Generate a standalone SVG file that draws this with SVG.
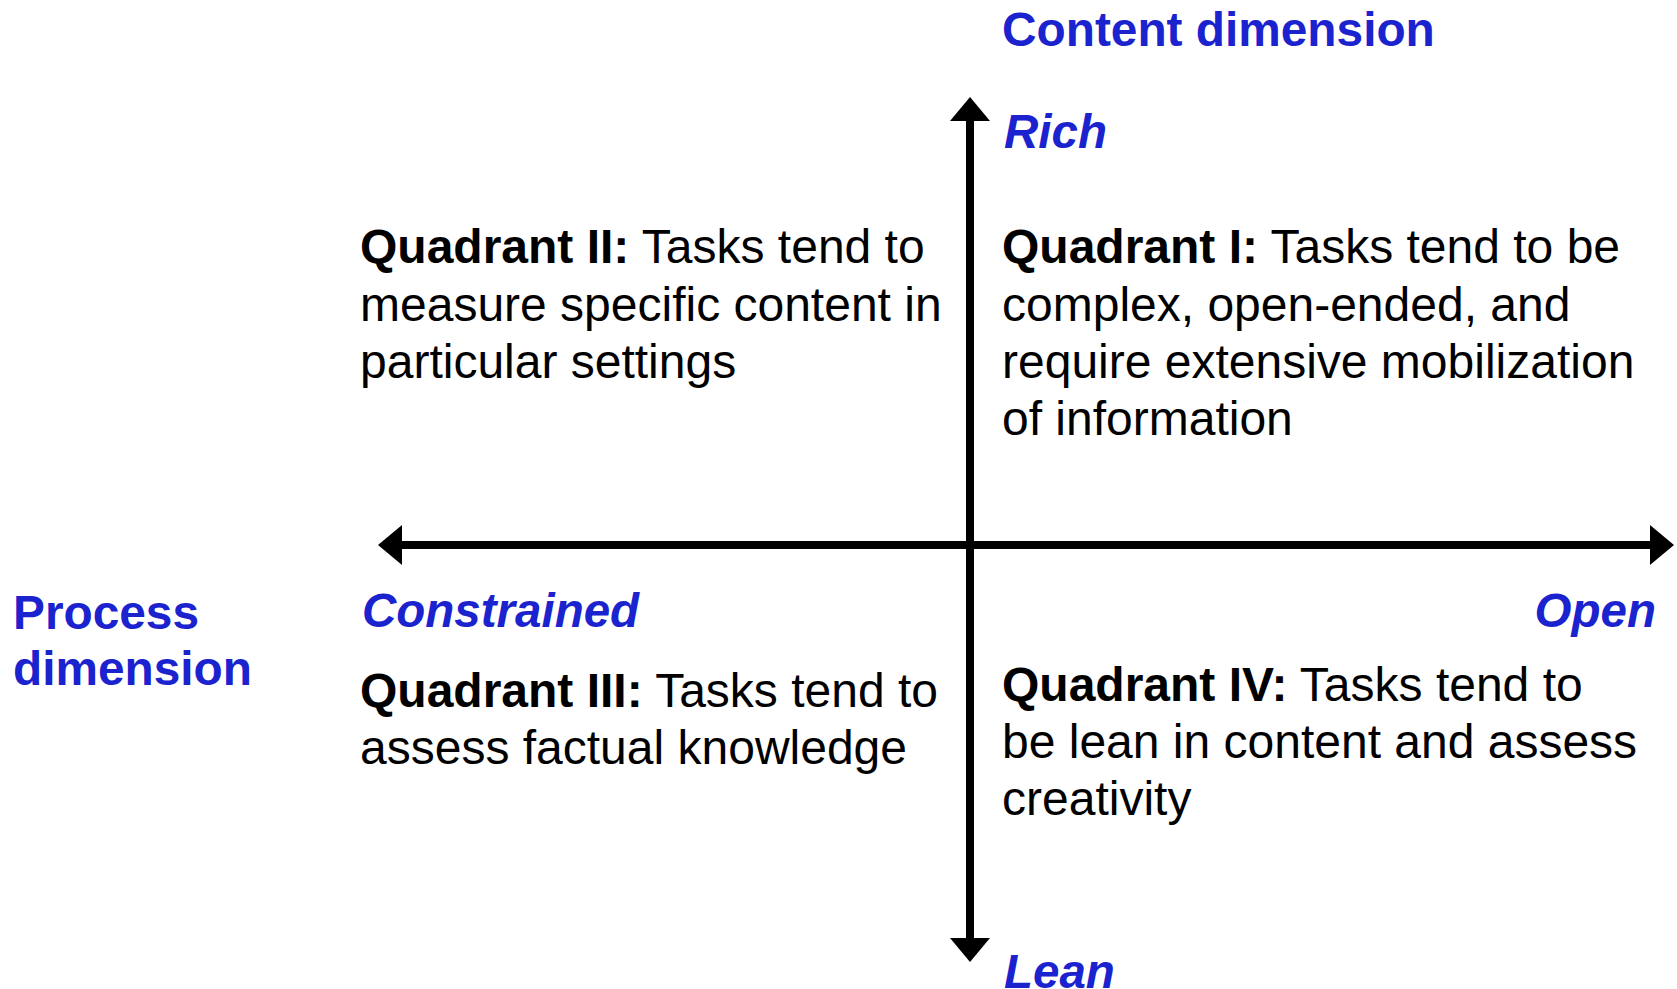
<svg xmlns="http://www.w3.org/2000/svg" width="1677" height="989" viewBox="0 0 1677 989">
  <style>
    .body { font-family: "Liberation Sans", Arial, sans-serif; font-size: 48px; fill: #000; }
    .b { font-weight: bold; }
    .dim { font-family: "Liberation Sans", Arial, sans-serif; font-size: 47.8px; font-weight: bold; fill: #1b23cf; }
    .pole { font-family: "Liberation Sans", Arial, sans-serif; font-size: 47.5px; font-weight: bold; font-style: italic; fill: #1b23cf; }
    .axis { stroke: #000; stroke-width: 8; fill: none; }
  </style>
  <defs>
    <marker id="arrow" markerUnits="userSpaceOnUse" viewBox="0 0 24 40" markerWidth="24" markerHeight="40" refX="0" refY="20" orient="auto-start-reverse">
      <path d="M0,0 L24,20 L0,40 z" fill="#000"/>
    </marker>
  </defs>
  <rect width="1677" height="989" fill="#fff"/>
  <g id="connectors">
    <line class="axis" x1="402" y1="545" x2="1650" y2="545" marker-start="url(#arrow)" marker-end="url(#arrow)"/>
    <line class="axis" x1="970" y1="121" x2="970" y2="938" marker-start="url(#arrow)" marker-end="url(#arrow)"/>
  </g>
  <g id="content-dimension">
    <text class="dim" x="1002" y="46">Content dimension</text>
  </g>
  <g id="process-dimension">
    <text class="dim" x="13" y="629">Process</text>
    <text class="dim" x="13" y="685">dimension</text>
  </g>
  <g id="rich"><text class="pole" x="1004" y="148">Rich</text></g>
  <g id="lean"><text class="pole" x="1004" y="988">Lean</text></g>
  <g id="constrained"><text class="pole" x="362" y="627">Constrained</text></g>
  <g id="open"><text class="pole" x="1656" y="627" text-anchor="end">Open</text></g>
  <g id="quadrant-2">
    <text class="body" x="360" y="263"><tspan class="b">Quadrant II:</tspan> Tasks tend to</text>
    <text class="body" x="360" y="321">measure specific content in</text>
    <text class="body" x="360" y="378">particular settings</text>
  </g>
  <g id="quadrant-1">
    <text class="body" x="1002" y="263"><tspan class="b">Quadrant I:</tspan> Tasks tend to be</text>
    <text class="body" x="1002" y="321">complex, open-ended, and</text>
    <text class="body" x="1002" y="378">require extensive mobilization</text>
    <text class="body" x="1002" y="435">of information</text>
  </g>
  <g id="quadrant-3">
    <text class="body" x="360" y="707"><tspan class="b">Quadrant III:</tspan> Tasks tend to</text>
    <text class="body" x="360" y="764">assess factual knowledge</text>
  </g>
  <g id="quadrant-4">
    <text class="body" x="1002" y="701"><tspan class="b">Quadrant IV:</tspan> Tasks tend to</text>
    <text class="body" x="1002" y="758">be lean in content and assess</text>
    <text class="body" x="1002" y="815">creativity</text>
  </g>
</svg>
